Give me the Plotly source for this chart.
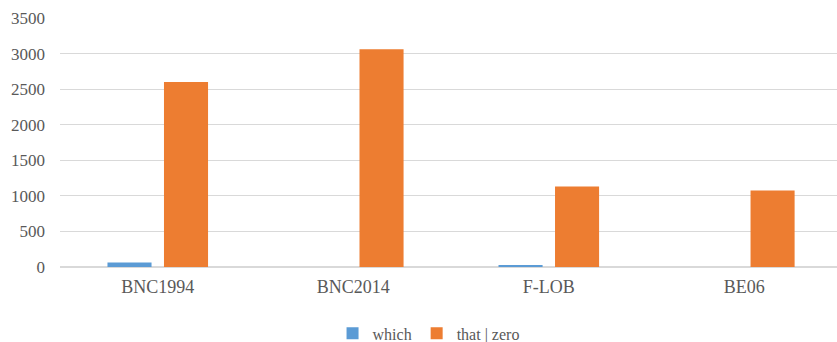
import plotly.graph_objects as go

categories = ["BNC1994", "BNC2014", "F-LOB", "BE06"]
which_counts = [65, 0, 15, 0]
that_zero_counts = [2600, 3060, 1130, 1075]
y_ticks = [0, 500, 1000, 1500, 2000, 2500, 3000, 3500]

BLUE = "#5B9BD5"
ORANGE = "#ED7D31"
TEXT = "#595959"
GRID = "#D9D9D9"
FONT = "'Liberation Serif', 'Times New Roman', serif"

fig = go.Figure()
fig.add_trace(go.Bar(x=categories, y=which_counts, name="which",
                     marker=dict(color=BLUE, line=dict(width=0))))
fig.add_trace(go.Bar(x=categories, y=that_zero_counts, name="that | zero",
                     marker=dict(color=ORANGE, line=dict(width=0))))

fig.update_layout(
    width=837, height=342,
    margin=dict(l=60, r=0, t=18, b=75),
    paper_bgcolor="white", plot_bgcolor="white",
    barmode="group", bargap=0.422, bargroupgap=0.22,
    font=dict(family=FONT, color=TEXT, size=17),
    showlegend=True,
    legend=dict(orientation="h", xref="container", yref="container",
                x=0.512, xanchor="center", y=0.025, yanchor="middle",
                font=dict(family=FONT, size=16, color=TEXT),
                itemwidth=30, traceorder="normal"),
    xaxis=dict(range=[-0.5, 3.474], showgrid=False, showline=False,
               ticks="", tickfont=dict(family=FONT, size=18),
               ticklabelstandoff=7),
    yaxis=dict(range=[0, 3500], tickvals=y_ticks, showgrid=True,
               gridcolor=GRID, gridwidth=1, zeroline=True,
               zerolinecolor=GRID, zerolinewidth=1.5, showline=False,
               ticks="", tickfont=dict(family=FONT, size=17),
               ticklabelstandoff=14),
)

fig.write_html("out.html")
